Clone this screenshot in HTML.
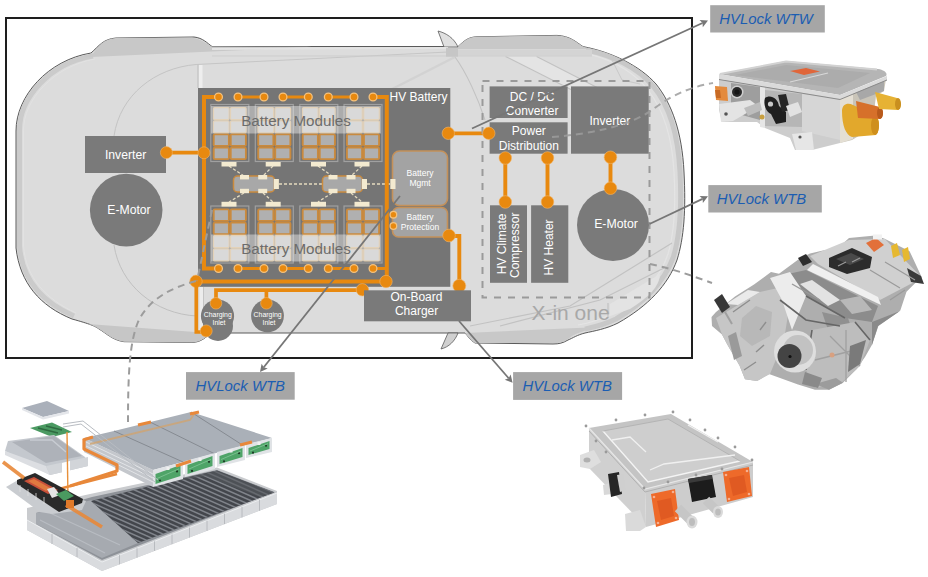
<!DOCTYPE html>
<html><head><meta charset="utf-8">
<style>
html,body{margin:0;padding:0;background:#fff;}
body{width:928px;height:577px;overflow:hidden;position:relative;}
svg{position:absolute;left:0;top:0;display:block;font-family:"Liberation Sans",sans-serif;}
</style></head><body>
<svg width="928" height="577" viewBox="0 0 928 577">
<path d="M16,131 C16,96 48,60 91,53 C99,46 103,39 116,38 L194,37 C203,38 207,43 212,46.5 L448,46.5 L458,46.6 C464,41 468,37 477,36.8 L557,35.4 C570,36 576,42 583,46.6 C612,52 640,66 656,84 C672,104 682,132 684,172 C686,210 684,238 677,260 C668,285 648,306 618,323 C606,329 594,331 585,333 C577,335 573,338 568,340 C563,343 559,344 553,344 L475,343 C470,340 468,336 465,333 L212,333 C206,336 203,342 192,342.5 L124,341.7 C112,340 106,333 99,329 C95,326 90,324 72,319 C40,306 20,283 16,248 Z" fill="#dcdcdc" stroke="#5a5a5a" stroke-width="1"/>
<path d="M93,56 C50,63 19,98 19.5,131 L19.5,246 C22,280 42,302 74,316" fill="none" stroke="#cbcbcb" stroke-width="5"/>
<path d="M95,59 C54,66 23,100 23.5,131 L23.5,246 C26,278 46,299 76,313" fill="none" stroke="#e2e2e2" stroke-width="1"/>
<path d="M586,50 C612,55 638,68 653,86 C668,104 678,132 680,172 C682,210 680,236 673,258 C664,282 645,302 616,319 C604,325 594,327 585,329" fill="none" stroke="#c8c8c8" stroke-width="5"/>
<path d="M592,55 C615,61 636,74 648,90 C662,108 672,134 674,172 C676,208 674,234 668,254 C660,278 642,298 614,313 C600,320 590,323 578,325" fill="none" stroke="#e4e4e4" stroke-width="1.2"/>
<path d="M80,57.6 C88,55 91,53 93,53.7 C99,46 103,39 116,38 L192,37.5 C200,39 206,43 211.5,46.5 L312,46.8 Z" fill="#c8c8c8"/>
<path d="M99,329 C95,326 92,325 88,324 L195,332 L212,333 C206,336 203,342 192,342.5 L124,341.7 C112,340 106,333 99,329 Z" fill="#c6c6c6"/>
<path d="M458,46.6 C464,41 468,37 477,36.8 L557,35.4 C570,36 576,42 583,46.6 L590,49 L458,49 Z" fill="#c8c8c8"/>
<path d="M465,333 L600,327 C583,331 577,333 572,336 C566,341 562,343 555,343 L475,343 C470,340 468,336 465,333 Z" fill="#c8c8c8"/>
<path d="M444,47 L438,31 C446,33 454,38 458,47 Z" fill="#e0e0e0" stroke="#5a5a5a" stroke-width="0.8"/>
<path d="M448,333 L441,349 C449,347 455,341 458,333 Z" fill="#d0d0d0" stroke="#5a5a5a" stroke-width="0.8"/>
<path d="M196,64.5 L448,52" fill="none" stroke="#c6c6c6" stroke-width="1"/><path d="M212,49 L448,48" fill="none" stroke="#e4e4e4" stroke-width="2"/>
<path d="M114,136 C120,95 155,68 196,64.5" fill="none" stroke="#c4c4c4" stroke-width="1"/>
<path d="M114,245 C120,285 155,314 197,316" fill="none" stroke="#c0c0c0" stroke-width="1"/>
<path d="M200.5,65 L200.5,88" fill="none" stroke="#eeeeee" stroke-width="4"/><path d="M198,64.5 L198,88" fill="none" stroke="#bcbcbc" stroke-width="1"/>
<path d="M201.3,287 L201.3,333" fill="none" stroke="#ececec" stroke-width="3.6"/><path d="M203.5,287 L203.5,333" fill="none" stroke="#c4c4c4" stroke-width="1"/>
<path d="M446,52.5 L592,52.5" fill="none" stroke="#d4d4d4" stroke-width="6"/>
<path d="M505.5,56.4 L536.6,56.4 L602,90 L572,90 Z" fill="#e4e4e4"/>
<path d="M505.5,56.4 L572,90 M536.6,56.4 L602,90 M455,57 C466,72 478,98 485,120" fill="none" stroke="#c2c2c2" stroke-width="1.1"/>
<path d="M455,57 L400,85 L330,120" fill="none" stroke="#d2d2d2" stroke-width="2.5"/>
<path d="M212,56 L592,56" fill="none" stroke="#cdcdcd" stroke-width="1"/>
<rect x="446" y="47.7" width="12" height="9" fill="#c6c6c6"/>
<path d="M612,60 L622,80 L640,84" fill="none" stroke="#c8c8c8" stroke-width="1"/>
<path d="M610,304 L660,274 C660,286 648,298 630,309 L610,316 Z" fill="#e3e3e3"/>
<path d="M470,326 L570,306 L672,243 M500,326 L600,300 L664,268 M608,303 L608,318" fill="none" stroke="#c2c2c2" stroke-width="1.2"/>
<rect x="6" y="18" width="686" height="340" fill="none" stroke="#1e1e1e" stroke-width="2"/>
<rect x="85" y="136" width="81" height="37" fill="#7a7a7a"/>
<circle cx="126.2" cy="210.1" r="36.3" fill="#7a7a7a"/>
<text x="125.6" y="159.2" font-size="12.2" fill="#fff" text-anchor="middle">Inverter</text>
<text x="129" y="213.5" font-size="12.2" fill="#fff" text-anchor="middle">E-Motor</text>
<rect x="198" y="88" width="252.3" height="198.8" fill="#757575"/>
<rect x="210.8" y="104.5" width="38" height="57" fill="none" stroke="#a0a0a0" stroke-width="1.2"/><rect x="213.5" y="107.7" width="15.6" height="11.85" fill="#c0c0c0" stroke="#d0b48a" stroke-width="1.2" rx="1"/><rect x="230.5" y="107.7" width="15.6" height="11.85" fill="#c0c0c0" stroke="#d0b48a" stroke-width="1.2" rx="1"/><rect x="213.5" y="120.95" width="15.6" height="11.85" fill="#c0c0c0" stroke="#d0b48a" stroke-width="1.2" rx="1"/><rect x="230.5" y="120.95" width="15.6" height="11.85" fill="#c0c0c0" stroke="#d0b48a" stroke-width="1.2" rx="1"/><rect x="213.70000000000002" y="134.4" width="15.2" height="11.45" fill="#b0b0b0" stroke="#c98a3e" stroke-width="1.9" rx="1"/><rect x="230.70000000000002" y="134.4" width="15.2" height="11.45" fill="#b0b0b0" stroke="#c98a3e" stroke-width="1.9" rx="1"/><rect x="213.70000000000002" y="147.65" width="15.2" height="11.45" fill="#b0b0b0" stroke="#c98a3e" stroke-width="1.9" rx="1"/><rect x="230.70000000000002" y="147.65" width="15.2" height="11.45" fill="#b0b0b0" stroke="#c98a3e" stroke-width="1.9" rx="1"/>
<rect x="210.8" y="206.0" width="38" height="57" fill="none" stroke="#a0a0a0" stroke-width="1.2"/><rect x="213.70000000000002" y="209.4" width="15.2" height="11.45" fill="#b0b0b0" stroke="#c98a3e" stroke-width="1.9" rx="1"/><rect x="230.70000000000002" y="209.4" width="15.2" height="11.45" fill="#b0b0b0" stroke="#c98a3e" stroke-width="1.9" rx="1"/><rect x="213.70000000000002" y="222.65" width="15.2" height="11.45" fill="#b0b0b0" stroke="#c98a3e" stroke-width="1.9" rx="1"/><rect x="230.70000000000002" y="222.65" width="15.2" height="11.45" fill="#b0b0b0" stroke="#c98a3e" stroke-width="1.9" rx="1"/><rect x="213.5" y="235.7" width="15.6" height="11.85" fill="#c0c0c0" stroke="#d0b48a" stroke-width="1.2" rx="1"/><rect x="230.5" y="235.7" width="15.6" height="11.85" fill="#c0c0c0" stroke="#d0b48a" stroke-width="1.2" rx="1"/><rect x="213.5" y="248.95" width="15.6" height="11.85" fill="#c0c0c0" stroke="#d0b48a" stroke-width="1.2" rx="1"/><rect x="230.5" y="248.95" width="15.6" height="11.85" fill="#c0c0c0" stroke="#d0b48a" stroke-width="1.2" rx="1"/>
<rect x="255.3" y="104.5" width="38" height="57" fill="none" stroke="#a0a0a0" stroke-width="1.2"/><rect x="258.0" y="107.7" width="15.6" height="11.85" fill="#c0c0c0" stroke="#d0b48a" stroke-width="1.2" rx="1"/><rect x="275.0" y="107.7" width="15.6" height="11.85" fill="#c0c0c0" stroke="#d0b48a" stroke-width="1.2" rx="1"/><rect x="258.0" y="120.95" width="15.6" height="11.85" fill="#c0c0c0" stroke="#d0b48a" stroke-width="1.2" rx="1"/><rect x="275.0" y="120.95" width="15.6" height="11.85" fill="#c0c0c0" stroke="#d0b48a" stroke-width="1.2" rx="1"/><rect x="258.2" y="134.4" width="15.2" height="11.45" fill="#b0b0b0" stroke="#c98a3e" stroke-width="1.9" rx="1"/><rect x="275.2" y="134.4" width="15.2" height="11.45" fill="#b0b0b0" stroke="#c98a3e" stroke-width="1.9" rx="1"/><rect x="258.2" y="147.65" width="15.2" height="11.45" fill="#b0b0b0" stroke="#c98a3e" stroke-width="1.9" rx="1"/><rect x="275.2" y="147.65" width="15.2" height="11.45" fill="#b0b0b0" stroke="#c98a3e" stroke-width="1.9" rx="1"/>
<rect x="255.3" y="206.0" width="38" height="57" fill="none" stroke="#a0a0a0" stroke-width="1.2"/><rect x="258.2" y="209.4" width="15.2" height="11.45" fill="#b0b0b0" stroke="#c98a3e" stroke-width="1.9" rx="1"/><rect x="275.2" y="209.4" width="15.2" height="11.45" fill="#b0b0b0" stroke="#c98a3e" stroke-width="1.9" rx="1"/><rect x="258.2" y="222.65" width="15.2" height="11.45" fill="#b0b0b0" stroke="#c98a3e" stroke-width="1.9" rx="1"/><rect x="275.2" y="222.65" width="15.2" height="11.45" fill="#b0b0b0" stroke="#c98a3e" stroke-width="1.9" rx="1"/><rect x="258.0" y="235.7" width="15.6" height="11.85" fill="#c0c0c0" stroke="#d0b48a" stroke-width="1.2" rx="1"/><rect x="275.0" y="235.7" width="15.6" height="11.85" fill="#c0c0c0" stroke="#d0b48a" stroke-width="1.2" rx="1"/><rect x="258.0" y="248.95" width="15.6" height="11.85" fill="#c0c0c0" stroke="#d0b48a" stroke-width="1.2" rx="1"/><rect x="275.0" y="248.95" width="15.6" height="11.85" fill="#c0c0c0" stroke="#d0b48a" stroke-width="1.2" rx="1"/>
<rect x="299.8" y="104.5" width="38" height="57" fill="none" stroke="#a0a0a0" stroke-width="1.2"/><rect x="302.5" y="107.7" width="15.6" height="11.85" fill="#c0c0c0" stroke="#d0b48a" stroke-width="1.2" rx="1"/><rect x="319.5" y="107.7" width="15.6" height="11.85" fill="#c0c0c0" stroke="#d0b48a" stroke-width="1.2" rx="1"/><rect x="302.5" y="120.95" width="15.6" height="11.85" fill="#c0c0c0" stroke="#d0b48a" stroke-width="1.2" rx="1"/><rect x="319.5" y="120.95" width="15.6" height="11.85" fill="#c0c0c0" stroke="#d0b48a" stroke-width="1.2" rx="1"/><rect x="302.7" y="134.4" width="15.2" height="11.45" fill="#b0b0b0" stroke="#c98a3e" stroke-width="1.9" rx="1"/><rect x="319.7" y="134.4" width="15.2" height="11.45" fill="#b0b0b0" stroke="#c98a3e" stroke-width="1.9" rx="1"/><rect x="302.7" y="147.65" width="15.2" height="11.45" fill="#b0b0b0" stroke="#c98a3e" stroke-width="1.9" rx="1"/><rect x="319.7" y="147.65" width="15.2" height="11.45" fill="#b0b0b0" stroke="#c98a3e" stroke-width="1.9" rx="1"/>
<rect x="299.8" y="206.0" width="38" height="57" fill="none" stroke="#a0a0a0" stroke-width="1.2"/><rect x="302.7" y="209.4" width="15.2" height="11.45" fill="#b0b0b0" stroke="#c98a3e" stroke-width="1.9" rx="1"/><rect x="319.7" y="209.4" width="15.2" height="11.45" fill="#b0b0b0" stroke="#c98a3e" stroke-width="1.9" rx="1"/><rect x="302.7" y="222.65" width="15.2" height="11.45" fill="#b0b0b0" stroke="#c98a3e" stroke-width="1.9" rx="1"/><rect x="319.7" y="222.65" width="15.2" height="11.45" fill="#b0b0b0" stroke="#c98a3e" stroke-width="1.9" rx="1"/><rect x="302.5" y="235.7" width="15.6" height="11.85" fill="#c0c0c0" stroke="#d0b48a" stroke-width="1.2" rx="1"/><rect x="319.5" y="235.7" width="15.6" height="11.85" fill="#c0c0c0" stroke="#d0b48a" stroke-width="1.2" rx="1"/><rect x="302.5" y="248.95" width="15.6" height="11.85" fill="#c0c0c0" stroke="#d0b48a" stroke-width="1.2" rx="1"/><rect x="319.5" y="248.95" width="15.6" height="11.85" fill="#c0c0c0" stroke="#d0b48a" stroke-width="1.2" rx="1"/>
<rect x="344.0" y="104.5" width="38" height="57" fill="none" stroke="#a0a0a0" stroke-width="1.2"/><rect x="346.7" y="107.7" width="15.6" height="11.85" fill="#c0c0c0" stroke="#d0b48a" stroke-width="1.2" rx="1"/><rect x="363.7" y="107.7" width="15.6" height="11.85" fill="#c0c0c0" stroke="#d0b48a" stroke-width="1.2" rx="1"/><rect x="346.7" y="120.95" width="15.6" height="11.85" fill="#c0c0c0" stroke="#d0b48a" stroke-width="1.2" rx="1"/><rect x="363.7" y="120.95" width="15.6" height="11.85" fill="#c0c0c0" stroke="#d0b48a" stroke-width="1.2" rx="1"/><rect x="346.9" y="134.4" width="15.2" height="11.45" fill="#b0b0b0" stroke="#c98a3e" stroke-width="1.9" rx="1"/><rect x="363.9" y="134.4" width="15.2" height="11.45" fill="#b0b0b0" stroke="#c98a3e" stroke-width="1.9" rx="1"/><rect x="346.9" y="147.65" width="15.2" height="11.45" fill="#b0b0b0" stroke="#c98a3e" stroke-width="1.9" rx="1"/><rect x="363.9" y="147.65" width="15.2" height="11.45" fill="#b0b0b0" stroke="#c98a3e" stroke-width="1.9" rx="1"/>
<rect x="344.0" y="206.0" width="38" height="57" fill="none" stroke="#a0a0a0" stroke-width="1.2"/><rect x="346.9" y="209.4" width="15.2" height="11.45" fill="#b0b0b0" stroke="#c98a3e" stroke-width="1.9" rx="1"/><rect x="363.9" y="209.4" width="15.2" height="11.45" fill="#b0b0b0" stroke="#c98a3e" stroke-width="1.9" rx="1"/><rect x="346.9" y="222.65" width="15.2" height="11.45" fill="#b0b0b0" stroke="#c98a3e" stroke-width="1.9" rx="1"/><rect x="363.9" y="222.65" width="15.2" height="11.45" fill="#b0b0b0" stroke="#c98a3e" stroke-width="1.9" rx="1"/><rect x="346.7" y="235.7" width="15.6" height="11.85" fill="#c0c0c0" stroke="#d0b48a" stroke-width="1.2" rx="1"/><rect x="363.7" y="235.7" width="15.6" height="11.85" fill="#c0c0c0" stroke="#d0b48a" stroke-width="1.2" rx="1"/><rect x="346.7" y="248.95" width="15.6" height="11.85" fill="#c0c0c0" stroke="#d0b48a" stroke-width="1.2" rx="1"/><rect x="363.7" y="248.95" width="15.6" height="11.85" fill="#c0c0c0" stroke="#d0b48a" stroke-width="1.2" rx="1"/>
<rect x="211" y="106" width="170" height="27.5" fill="#ffffff" fill-opacity="0.4"/>
<rect x="211" y="234.5" width="170" height="27" fill="#ffffff" fill-opacity="0.4"/>
<text x="296" y="125.5" font-size="15.2" fill="#6c6c6c" text-anchor="middle">Battery Modules</text>
<text x="296" y="253.6" font-size="15.2" fill="#6c6c6c" text-anchor="middle">Battery Modules</text>
<text x="418.5" y="100.8" font-size="12" fill="#fff" text-anchor="middle">HV Battery</text>
<path d="M229,166 L244,176 M273,166 L263,176 M318,166 L332,176 M362,166 L351,176 M244,193 L229,202 M263,193 L273,202 M332,193 L318,202 M351,193 L362,202 M279,184 L322,184 M367,184 L390,184" stroke="#e6dcc0" stroke-width="1.3" stroke-dasharray="3,2" fill="none"/>
<rect x="233.5" y="176" width="41" height="16" rx="4" fill="#a8a8a8" stroke="#c98a3e" stroke-width="1.5"/>
<rect x="322.5" y="176" width="40" height="16" rx="4" fill="#a8a8a8" stroke="#c98a3e" stroke-width="1.5"/>
<rect x="221.5" y="162" width="15" height="4.5" fill="#f3ead0"/>
<rect x="221.5" y="201.8" width="15" height="4.8" fill="#f3ead0"/>
<rect x="265.7" y="162" width="15" height="4.5" fill="#f3ead0"/>
<rect x="265.7" y="201.8" width="15" height="4.8" fill="#f3ead0"/>
<rect x="311" y="162" width="15" height="4.5" fill="#f3ead0"/>
<rect x="311" y="201.8" width="15" height="4.8" fill="#f3ead0"/>
<rect x="354.5" y="162" width="15" height="4.5" fill="#f3ead0"/>
<rect x="354.5" y="201.8" width="15" height="4.8" fill="#f3ead0"/>
<rect x="240" y="175" width="9" height="4.4" fill="#f3ead0"/>
<rect x="240" y="188.8" width="9" height="4.4" fill="#f3ead0"/>
<rect x="258.2" y="175" width="9" height="4.4" fill="#f3ead0"/>
<rect x="258.2" y="188.8" width="9" height="4.4" fill="#f3ead0"/>
<rect x="328.5" y="175" width="9" height="4.4" fill="#f3ead0"/>
<rect x="328.5" y="188.8" width="9" height="4.4" fill="#f3ead0"/>
<rect x="346.5" y="175" width="9" height="4.4" fill="#f3ead0"/>
<rect x="346.5" y="188.8" width="9" height="4.4" fill="#f3ead0"/>
<rect x="273.9" y="179" width="5" height="10" fill="#f3ead0"/>
<rect x="362" y="179" width="5" height="10" fill="#f3ead0"/>
<rect x="392.5" y="151" width="55" height="54.5" rx="7" fill="#a3a3a3" stroke="#c4915a" stroke-width="1.6"/>
<text x="420" y="176" font-size="8.5" fill="#fff" text-anchor="middle">Battery</text>
<text x="420" y="186" font-size="8.5" fill="#fff" text-anchor="middle">Mgmt</text>
<rect x="392.5" y="207.5" width="55" height="29.5" rx="6" fill="#a3a3a3" stroke="#c4915a" stroke-width="1.6"/>
<rect x="390.3" y="179" width="5.2" height="10" fill="#f3ead0"/>
<text x="420" y="219.5" font-size="8.5" fill="#fff" text-anchor="middle">Battery</text>
<text x="420" y="229.8" font-size="8.5" fill="#fff" text-anchor="middle">Protection</text>
<path d="M218.5,97 L204,97 L204,268.5 L218.3,268.5" fill="none" stroke="#e8890f" stroke-width="4" stroke-linejoin="miter"/>
<path d="M373,97 L386.8,97 L386.8,281.5" fill="none" stroke="#e8890f" stroke-width="4" stroke-linejoin="miter"/>
<path d="M238,97 L264,97 M283,97 L308.3,97 M328.3,97 L354,97" fill="none" stroke="#e8890f" stroke-width="3.2" stroke-linejoin="miter"/>
<path d="M237.3,268.5 L263.2,268.5 M282.8,268.5 L308.3,268.5 M328.3,268.5 L354,268.5 M373.5,268.5 L386.8,268.5" fill="none" stroke="#e8890f" stroke-width="3.2" stroke-linejoin="miter"/>
<circle cx="218.5" cy="97" r="3.9000000000000004" fill="#e8890f" stroke="#f4c27e" stroke-width="1.3"/>
<circle cx="218.5" cy="268.5" r="3.9000000000000004" fill="#e8890f" stroke="#f4c27e" stroke-width="1.3"/>
<circle cx="238" cy="97" r="3.9000000000000004" fill="#e8890f" stroke="#f4c27e" stroke-width="1.3"/>
<circle cx="238" cy="268.5" r="3.9000000000000004" fill="#e8890f" stroke="#f4c27e" stroke-width="1.3"/>
<circle cx="264" cy="97" r="3.9000000000000004" fill="#e8890f" stroke="#f4c27e" stroke-width="1.3"/>
<circle cx="264" cy="268.5" r="3.9000000000000004" fill="#e8890f" stroke="#f4c27e" stroke-width="1.3"/>
<circle cx="283" cy="97" r="3.9000000000000004" fill="#e8890f" stroke="#f4c27e" stroke-width="1.3"/>
<circle cx="283" cy="268.5" r="3.9000000000000004" fill="#e8890f" stroke="#f4c27e" stroke-width="1.3"/>
<circle cx="308.3" cy="97" r="3.9000000000000004" fill="#e8890f" stroke="#f4c27e" stroke-width="1.3"/>
<circle cx="308.3" cy="268.5" r="3.9000000000000004" fill="#e8890f" stroke="#f4c27e" stroke-width="1.3"/>
<circle cx="328.3" cy="97" r="3.9000000000000004" fill="#e8890f" stroke="#f4c27e" stroke-width="1.3"/>
<circle cx="328.3" cy="268.5" r="3.9000000000000004" fill="#e8890f" stroke="#f4c27e" stroke-width="1.3"/>
<circle cx="354" cy="97" r="3.9000000000000004" fill="#e8890f" stroke="#f4c27e" stroke-width="1.3"/>
<circle cx="354" cy="268.5" r="3.9000000000000004" fill="#e8890f" stroke="#f4c27e" stroke-width="1.3"/>
<circle cx="373" cy="97" r="3.9000000000000004" fill="#e8890f" stroke="#f4c27e" stroke-width="1.3"/>
<circle cx="373" cy="268.5" r="3.9000000000000004" fill="#e8890f" stroke="#f4c27e" stroke-width="1.3"/>
<path d="M196,281.5 L386.8,281.5" fill="none" stroke="#e8890f" stroke-width="4" stroke-linejoin="miter"/>
<path d="M166.4,152.7 L204,152.7" fill="none" stroke="#e8890f" stroke-width="3.8" stroke-linejoin="miter"/>
<circle cx="166.4" cy="152.6" r="6" fill="#e8890f" stroke="#f2b56a" stroke-width="0.6"/>
<circle cx="204" cy="152.8" r="6" fill="#e8890f" stroke="#f2b56a" stroke-width="0.6"/>
<circle cx="196" cy="281.3" r="6.2" fill="#e8890f" stroke="#f2b56a" stroke-width="0.6"/>
<circle cx="386" cy="281.5" r="6.2" fill="#e8890f" stroke="#f2b56a" stroke-width="0.6"/>
<path d="M448.3,133.3 L488.8,133.3" fill="none" stroke="#e8890f" stroke-width="3.8" stroke-linejoin="miter"/>
<circle cx="448.3" cy="133.3" r="6.2" fill="#e8890f" stroke="#f2b56a" stroke-width="0.6"/>
<circle cx="393.4" cy="214.7" r="3.3000000000000003" fill="#e8890f" stroke="#f4c27e" stroke-width="1.3"/>
<circle cx="393.4" cy="226" r="3.3000000000000003" fill="#e8890f" stroke="#f4c27e" stroke-width="1.3"/>
<path d="M449,236 L459.3,236 L459.3,285.8" fill="none" stroke="#e8890f" stroke-width="3.9" stroke-linejoin="miter"/>
<circle cx="449" cy="235.5" r="6.3" fill="#e8890f" stroke="#f2b56a" stroke-width="0.6"/>
<circle cx="459.3" cy="285.8" r="6.5" fill="#e8890f" stroke="#f2b56a" stroke-width="0.6"/>
<circle cx="217.5" cy="316" r="16.6" fill="#7a7a7a"/>
<circle cx="267.5" cy="315.8" r="16.4" fill="#7a7a7a"/>
<circle cx="218" cy="326" r="15" fill="#7a7a7a"/>
<path d="M216,303 L216,290.2 L362.4,290.2 M266.4,290.2 L266.4,303" fill="none" stroke="#e8890f" stroke-width="3.7" stroke-linejoin="miter"/>
<circle cx="216" cy="303.3" r="5.8" fill="#e8890f" stroke="#f2b56a" stroke-width="0.6"/>
<circle cx="266.4" cy="303.3" r="5.8" fill="#e8890f" stroke="#f2b56a" stroke-width="0.6"/>
<circle cx="362.4" cy="289.8" r="6.2" fill="#e8890f" stroke="#f2b56a" stroke-width="0.6"/>
<path d="M196.3,281 L196.3,332 L206.5,332" fill="none" stroke="#e8890f" stroke-width="3.7" stroke-linejoin="miter"/>
<circle cx="206.2" cy="330.9" r="6" fill="#e8890f" stroke="#f2b56a" stroke-width="0.6"/>
<text x="217.8" y="316.9" font-size="6.9" fill="#fff" text-anchor="middle">Charging</text>
<text x="219" y="324.6" font-size="6.9" fill="#fff" text-anchor="middle">Inlet</text>
<text x="267.6" y="316.9" font-size="6.9" fill="#fff" text-anchor="middle">Charging</text>
<text x="269" y="324.6" font-size="6.9" fill="#fff" text-anchor="middle">Inlet</text>
<rect x="364" y="290.3" width="107" height="31" fill="#7a7a7a"/>
<text x="416.4" y="301" font-size="12" fill="#fff" text-anchor="middle">On-Board</text>
<text x="416.6" y="314.5" font-size="12" fill="#fff" text-anchor="middle">Charger</text>
<rect x="482.5" y="81" width="167" height="216.5" fill="none" stroke="#9a9a9a" stroke-width="2" stroke-dasharray="7,7"/>
<rect x="489.6" y="86.4" width="78" height="31.6" fill="#7a7a7a"/>
<rect x="489.6" y="122.3" width="78" height="31.4" fill="#7a7a7a"/>
<rect x="571" y="86.4" width="77.7" height="67.3" fill="#7a7a7a"/>
<circle cx="488.8" cy="133.3" r="6.2" fill="#e8890f" stroke="#f2b56a" stroke-width="0.6"/>
<text x="532.2" y="100.5" font-size="12" fill="#fff" text-anchor="middle">DC / DC</text>
<text x="532.2" y="114.6" font-size="12" fill="#fff" text-anchor="middle">Converter</text>
<text x="528.8" y="135.3" font-size="12" fill="#fff" text-anchor="middle">Power</text>
<text x="528.8" y="149.6" font-size="12" fill="#fff" text-anchor="middle">Distribution</text>
<text x="609.8" y="124.7" font-size="12" fill="#fff" text-anchor="middle">Inverter</text>
<rect x="490" y="205.3" width="37" height="77.5" fill="#7a7a7a"/>
<rect x="531.1" y="205.3" width="37.2" height="77.5" fill="#7a7a7a"/>
<text transform="translate(506,243.8) rotate(-90)" font-size="12" fill="#fff" text-anchor="middle">HV Climate</text>
<text transform="translate(519,245.3) rotate(-90)" font-size="12" fill="#fff" text-anchor="middle">Compressor</text>
<text transform="translate(553,247.4) rotate(-90)" font-size="12" fill="#fff" text-anchor="middle">HV Heater</text>
<circle cx="613" cy="225" r="36" fill="#7a7a7a"/>
<text x="616" y="228.4" font-size="12.3" fill="#fff" text-anchor="middle">E-Motor</text>
<path d="M505.3,158 L505.3,202 M547.5,158 L547.5,202 M610.5,157.3 L610.5,188.2" fill="none" stroke="#e8890f" stroke-width="3.9" stroke-linejoin="miter"/>
<circle cx="505.3" cy="158" r="6.3" fill="#e8890f" stroke="#f2b56a" stroke-width="0.6"/>
<circle cx="505.3" cy="202" r="6.3" fill="#e8890f" stroke="#f2b56a" stroke-width="0.6"/>
<circle cx="547.5" cy="158" r="6.3" fill="#e8890f" stroke="#f2b56a" stroke-width="0.6"/>
<circle cx="547.5" cy="202" r="6.3" fill="#e8890f" stroke="#f2b56a" stroke-width="0.6"/>
<circle cx="610.5" cy="157.3" r="6.3" fill="#e8890f" stroke="#f2b56a" stroke-width="0.6"/>
<circle cx="610.5" cy="188.2" r="6.3" fill="#e8890f" stroke="#f2b56a" stroke-width="0.6"/>
<text x="570.5" y="320" font-size="21" fill="#a8a8a8" text-anchor="middle">X-in one</text>
<path d="M552,137 C590,134 630,126 652,110 C668,98 685,88 713,83" fill="none" stroke="#9c9c9c" stroke-width="2" stroke-dasharray="7,5" stroke-opacity="0.85"/>
<path d="M650,264 C670,268 690,275 712,283" fill="none" stroke="#9c9c9c" stroke-width="2" stroke-dasharray="7,5"/>
<path d="M212,210 L197,281" fill="none" stroke="#9c9c9c" stroke-width="2" stroke-dasharray="7,5" stroke="#a8a8a8" stroke-width="1.6"/>
<path d="M196,281 C170,288 148,300 138,322 C130,342 128,370 128,422" fill="none" stroke="#9c9c9c" stroke-width="2" stroke-dasharray="7,5" stroke="#a0a0a0"/>
<line x1="472" y1="128.5" x2="702.54" y2="23.00" stroke="#767676" stroke-width="1.8"/><polygon points="708,20.5 702.80,27.17 702.54,23.00 699.56,20.07" fill="#767676"/>
<line x1="649.5" y1="224" x2="702.58" y2="198.87" stroke="#767676" stroke-width="1.8"/><polygon points="708,196.3 702.89,203.03 702.58,198.87 699.55,195.98" fill="#767676"/>
<line x1="400" y1="196" x2="263.74" y2="367.30" stroke="#767676" stroke-width="1.8"/><polygon points="260,372 261.62,363.70 263.74,367.30 267.72,368.56" fill="#767676"/>
<line x1="459" y1="321" x2="508.67" y2="378.27" stroke="#767676" stroke-width="1.8"/><polygon points="512.6,382.8 504.74,379.69 508.67,378.27 510.63,374.58" fill="#767676"/>
<rect x="710.2" y="5.2" width="114.6" height="27.3" fill="#a6a6a6"/><text x="766" y="24" font-size="14.9" font-style="italic" fill="#1b5db2" text-anchor="middle">HVLock WTW</text>
<rect x="708.3" y="185.1" width="113.5" height="27.4" fill="#a6a6a6"/><text x="761.5" y="203.6" font-size="14.9" font-style="italic" fill="#1b5db2" text-anchor="middle">HVLock WTB</text>
<rect x="186" y="372.1" width="108.7" height="27.6" fill="#a6a6a6"/><text x="240.3" y="391" font-size="14.9" font-style="italic" fill="#1b5db2" text-anchor="middle">HVLock WTB</text>
<rect x="513.1" y="372.1" width="109" height="27.8" fill="#a6a6a6"/><text x="567.2" y="391" font-size="14.9" font-style="italic" fill="#1b5db2" text-anchor="middle">HVLock WTB</text>
<defs>
<linearGradient id="lid1" x1="0" y1="0" x2="1" y2="1"><stop offset="0" stop-color="#c4c4c4"/><stop offset="1" stop-color="#a9a9a9"/></linearGradient>
<linearGradient id="face1" x1="0" y1="0" x2="1" y2="0"><stop offset="0" stop-color="#d2d2d2"/><stop offset="0.6" stop-color="#c6c6c6"/><stop offset="1" stop-color="#e4e0d8"/></linearGradient>
<linearGradient id="mod" x1="0" y1="0" x2="1" y2="1"><stop offset="0" stop-color="#aeb2b8"/><stop offset="1" stop-color="#9ca0a6"/></linearGradient>
<linearGradient id="tray" x1="0" y1="0" x2="1" y2="1"><stop offset="0" stop-color="#c9cbcf"/><stop offset="1" stop-color="#b4b6ba"/></linearGradient>
<linearGradient id="chg" x1="0" y1="0" x2="1" y2="1"><stop offset="0" stop-color="#d6d6d6"/><stop offset="1" stop-color="#c2c2c2"/></linearGradient>
<linearGradient id="mot" x1="0" y1="0" x2="1" y2="1"><stop offset="0" stop-color="#c8c8c8"/><stop offset="0.5" stop-color="#b4b4b4"/><stop offset="1" stop-color="#a4a4a4"/></linearGradient>
</defs>
<polygon points="719,79 840,98 840,143 812,150 795,150 790,138 765,128 757,122 722,122 719,110" fill="#cdcdcd" />
<polygon points="840,98 886,79 884,91 876,96 872,128 852,140 840,143" fill="#c9c4b8" />
<polygon points="840,98 853,93 853,139 840,143" fill="#e4dfd4" />
<polygon points="856,92 884,80 884,91 860,100" fill="#a8a8a8" />
<polygon points="731,83 760,87 760,120 731,112" fill="#9e9e9e" />
<polygon points="765,90 802,94 802,127 765,126" fill="#b6b6b6" />
<polygon points="760,86 765,87 765,128 760,127" fill="#e6e6e6" />
<polygon points="802,94 840,99 840,140 802,131" fill="#d6d6d6" />
<path d="M719,74 L786,61 L878,69 C884,70 888,73 886,76 L840,95 Z" fill="#b5b5b5"/>
<polygon points="735,75 786,65 870,73 838,88" fill="#acacac" />
<polygon points="719,74 840,95 887,76 887,80 840,99 719,79" fill="#dadada" />
<path d="M720,74 L786,61.5 L877,69.5" stroke="#d2d2d2" stroke-width="2" fill="none"/>
<path d="M719,79.5 L840,99.5 L887,80" stroke="#8a8a8a" stroke-width="1" fill="none"/>
<path d="M790,82 L828,73" stroke="#d8d8d8" stroke-width="1.2" fill="none"/>
<polygon points="790,71 806,68 820,71.5 804,75" fill="#e0663a" />
<circle cx="737" cy="92" r="6.5" fill="#cfcfcf"/>
<circle cx="737" cy="92" r="5" fill="#2a2a2a"/>
<circle cx="737" cy="92" r="2.6" fill="#151515"/>
<polygon points="715,86 727,87 728,101 716,100" fill="#e48a3c" />
<polygon points="715,90 720,90 721,98 716,98" fill="#c86a24" />
<polygon points="719,104 750,100 758,106 745,114 733,121 721,122" fill="#e4e4e4" />
<circle cx="726" cy="114" r="1.8" fill="#555"/>
<polygon points="744,108 760,102 762,110 748,116" fill="#bdbdbd" />
<path d="M765,98 C763,104 766,112 771,114 L776,124 L786,122 L786,112 L779,106 C778,98 770,94 765,98 Z" fill="#1f1f1f"/>
<circle cx="770.5" cy="104" r="2.6" fill="#c8c8c8"/>
<polygon points="778,95 786,94 790,110 782,112" fill="#262626" />
<polygon points="786,106 798,102 802,112 790,117" fill="#e2e2e2" />
<circle cx="762" cy="117" r="2.5" fill="#c9a040"/>
<polygon points="792,134 812,132 814,150 796,150" fill="#e6e6e6" />
<circle cx="800" cy="137" r="1.6" fill="#555"/>
<path d="M842,111 C842,104 848,102 853,105 L876,116 C880,119 880,131 876,135 L852,137 C846,135 842,126 842,111 Z" fill="#e2a82c"/>
<ellipse cx="875" cy="125.5" rx="4" ry="9.5" fill="#cf8f1c"/>
<path d="M856,101 L880,107 C884,110 884,117 880,119 L858,118 Z" fill="#d6702a"/>
<ellipse cx="880" cy="113" rx="3" ry="6" fill="#b85a1c"/>
<path d="M875,92 L897,98 C902,101 902,108 898,110 L879,109 Z" fill="#e6b234"/>
<ellipse cx="898" cy="104" rx="3" ry="6" fill="#c98f1f"/>
<polygon points="711.5,317 716,312 735,296.4 754,284.6 771,272 779,273.7 799,259 810,253.4 824,250.3 834,251.8 849,238 875.3,235.6 884.6,238.7 909.6,251.2 922,277.7 915.8,282.4 906.5,291.8 900.3,310.5 878.4,326 872,344.8 865,357 856.7,369 843,382.8 829,389.7 815,389.7 798,384.5 769,374 757,381 745,379.3 739.5,365.5 727.4,344.8 722,334.5 712,326" fill="#aeaeae" />
<polygon points="810,256 849,240 885,239 922,278 880,300 818,264" fill="#d0d0d0" />
<polygon points="813,264 878,297 881,305 807,270" fill="#f0f0f0" />
<polygon points="829,258 852,248 872,257 870,268 847,274 829,267" fill="#2c2c2c" />
<polygon points="836,259 851,253 864,259 850,265" fill="#4a4a4a" />
<path d="M838,266 L846,262 M852,262 L860,258" stroke="#9a9a9a" stroke-width="1.2" fill="none"/>
<polygon points="866,243 876,238 884,245 874,252" fill="#e2703a" />
<rect x="873" y="234.5" width="9" height="5" fill="#f2f2f2"/>
<polygon points="891,246 897,243 900,255 893,258" fill="#e6b830" />
<polygon points="902,250 908,247 910,259 904,262" fill="#e6b830" />
<polygon points="907,268 921,276 924,284 911,282" fill="#3a3a3a" />
<polygon points="798,258 806,254 812,262 803,266" fill="#2e2e2e" />
<path d="M885,262 L915,280 M870,270 L900,288 M890,300 L905,290" stroke="#9a9a9a" stroke-width="1.2" fill="none"/>
<polygon points="779,276 806,270 878,306 872,322 845,318 806,296" fill="#8c8c8c" />
<polygon points="800,284 812,280 840,300 828,306" fill="#e2e2e2" />
<polygon points="840,300 860,296 872,310 852,314" fill="#b8b8b8" />
<polygon points="872,322 900,311 878,326 872,345" fill="#8a8a8a" />
<polygon points="822,312 848,318 852,330 828,330" fill="#909090" />
<polygon points="812,330 855,322 870,340 860,366 840,384 815,388 806,370" fill="#bdbdbd" />
<path d="M846,330 L846,382 M830,336 L860,366 M815,360 L855,350" stroke="#a0a0a0" stroke-width="1.3" fill="none"/>
<circle cx="832" cy="355" r="2.5" fill="#d8a080"/>
<polygon points="815,384 829,389.7 843,382.8 836,378" fill="#9c9c9c" />
<polygon points="716,318 738,305 760,292 778,288 790,302 784,340 770,374 757,381 745,379.3 739.5,365.5 727.4,344.8 722,334.5" fill="#c6c6c6" />
<polygon points="742,318 756,306 772,312 770,336 752,346 740,336" fill="#b8b8b8" />
<polygon points="726,304 748,290 760,292 738,305" fill="#eaeaea" />
<polygon points="770,278 790,272 806,296 792,330 782,300" fill="#ececec" />
<path d="M733,312 L750,300 M760,330 L766,322 M756,352 L764,345 M744,370 L756,362" stroke="#8e8e8e" stroke-width="1.4" fill="none"/>
<path d="M792,284 L820,300" stroke="#9a9a9a" stroke-width="1.4" fill="none"/>
<path d="M806,296 L845,318 M780,300 L806,320 L840,326 M855,322 L870,340 M812,330 L806,370" stroke="#666" stroke-width="1.6" fill="none"/>
<polygon points="850,346 866,340 860,364 848,372" fill="#7a7a7a" />
<polygon points="805,372 822,378 818,388 802,384" fill="#8a8a8a" />
<polygon points="728,336 736,332 742,356 734,360" fill="#9a9a9a" />
<circle cx="795" cy="351.5" r="21" fill="#dedede"/>
<circle cx="798" cy="350" r="15" fill="#c2c2c2"/>
<circle cx="789.5" cy="356" r="12" fill="#444444"/>
<circle cx="790" cy="356.5" r="1.6" fill="#111"/>
<polygon points="714,300 722,294 730,307 722,313" fill="#383838" />
<line x1="725" y1="312" x2="732" y2="324" stroke="#a0a0a0" stroke-width="2"/>
<clipPath id="stripes"><polygon points="91,501 150,486 217,470.5 274.5,492.5 138,543"/></clipPath>
<polygon points="27,508 90,494 217,467.5 277,491 277,504 102,571 27,530" fill="#c9cbce" />
<polygon points="36,513 92,497 217,470 274.5,492 102,560 36,524" fill="#8e9298" />
<polygon points="36,513 92,500 138,543 102,558 36,524" fill="#a6aab0" />
<path d="M40,520 L105,553 M50,513 L120,545" stroke="#b8bcc2" stroke-width="1.2" fill="none"/>
<g clip-path="url(#stripes)"><rect x="80" y="460" width="200" height="100" fill="#43464c"/><line x1="80" y1="250.0" x2="280" y2="338.0" stroke="#80848b" stroke-width="1.5"/><line x1="80" y1="254.5" x2="280" y2="342.5" stroke="#80848b" stroke-width="1.5"/><line x1="80" y1="259.0" x2="280" y2="347.0" stroke="#80848b" stroke-width="1.5"/><line x1="80" y1="263.5" x2="280" y2="351.5" stroke="#80848b" stroke-width="1.5"/><line x1="80" y1="268.0" x2="280" y2="356.0" stroke="#80848b" stroke-width="1.5"/><line x1="80" y1="272.5" x2="280" y2="360.5" stroke="#80848b" stroke-width="1.5"/><line x1="80" y1="277.0" x2="280" y2="365.0" stroke="#80848b" stroke-width="1.5"/><line x1="80" y1="281.5" x2="280" y2="369.5" stroke="#80848b" stroke-width="1.5"/><line x1="80" y1="286.0" x2="280" y2="374.0" stroke="#80848b" stroke-width="1.5"/><line x1="80" y1="290.5" x2="280" y2="378.5" stroke="#80848b" stroke-width="1.5"/><line x1="80" y1="295.0" x2="280" y2="383.0" stroke="#80848b" stroke-width="1.5"/><line x1="80" y1="299.5" x2="280" y2="387.5" stroke="#80848b" stroke-width="1.5"/><line x1="80" y1="304.0" x2="280" y2="392.0" stroke="#80848b" stroke-width="1.5"/><line x1="80" y1="308.5" x2="280" y2="396.5" stroke="#80848b" stroke-width="1.5"/><line x1="80" y1="313.0" x2="280" y2="401.0" stroke="#80848b" stroke-width="1.5"/><line x1="80" y1="317.5" x2="280" y2="405.5" stroke="#80848b" stroke-width="1.5"/><line x1="80" y1="322.0" x2="280" y2="410.0" stroke="#80848b" stroke-width="1.5"/><line x1="80" y1="326.5" x2="280" y2="414.5" stroke="#80848b" stroke-width="1.5"/><line x1="80" y1="331.0" x2="280" y2="419.0" stroke="#80848b" stroke-width="1.5"/><line x1="80" y1="335.5" x2="280" y2="423.5" stroke="#80848b" stroke-width="1.5"/><line x1="80" y1="340.0" x2="280" y2="428.0" stroke="#80848b" stroke-width="1.5"/><line x1="80" y1="344.5" x2="280" y2="432.5" stroke="#80848b" stroke-width="1.5"/><line x1="80" y1="349.0" x2="280" y2="437.0" stroke="#80848b" stroke-width="1.5"/><line x1="80" y1="353.5" x2="280" y2="441.5" stroke="#80848b" stroke-width="1.5"/><line x1="80" y1="358.0" x2="280" y2="446.0" stroke="#80848b" stroke-width="1.5"/><line x1="80" y1="362.5" x2="280" y2="450.5" stroke="#80848b" stroke-width="1.5"/><line x1="80" y1="367.0" x2="280" y2="455.0" stroke="#80848b" stroke-width="1.5"/><line x1="80" y1="371.5" x2="280" y2="459.5" stroke="#80848b" stroke-width="1.5"/><line x1="80" y1="376.0" x2="280" y2="464.0" stroke="#80848b" stroke-width="1.5"/><line x1="80" y1="380.5" x2="280" y2="468.5" stroke="#80848b" stroke-width="1.5"/><line x1="80" y1="385.0" x2="280" y2="473.0" stroke="#80848b" stroke-width="1.5"/><line x1="80" y1="389.5" x2="280" y2="477.5" stroke="#80848b" stroke-width="1.5"/><line x1="80" y1="394.0" x2="280" y2="482.0" stroke="#80848b" stroke-width="1.5"/><line x1="80" y1="398.5" x2="280" y2="486.5" stroke="#80848b" stroke-width="1.5"/><line x1="80" y1="403.0" x2="280" y2="491.0" stroke="#80848b" stroke-width="1.5"/><line x1="80" y1="407.5" x2="280" y2="495.5" stroke="#80848b" stroke-width="1.5"/><line x1="80" y1="412.0" x2="280" y2="500.0" stroke="#80848b" stroke-width="1.5"/><line x1="80" y1="416.5" x2="280" y2="504.5" stroke="#80848b" stroke-width="1.5"/><line x1="80" y1="421.0" x2="280" y2="509.0" stroke="#80848b" stroke-width="1.5"/><line x1="80" y1="425.5" x2="280" y2="513.5" stroke="#80848b" stroke-width="1.5"/><line x1="80" y1="430.0" x2="280" y2="518.0" stroke="#80848b" stroke-width="1.5"/><line x1="80" y1="434.5" x2="280" y2="522.5" stroke="#80848b" stroke-width="1.5"/><line x1="80" y1="439.0" x2="280" y2="527.0" stroke="#80848b" stroke-width="1.5"/><line x1="80" y1="443.5" x2="280" y2="531.5" stroke="#80848b" stroke-width="1.5"/><line x1="80" y1="448.0" x2="280" y2="536.0" stroke="#80848b" stroke-width="1.5"/><line x1="80" y1="452.5" x2="280" y2="540.5" stroke="#80848b" stroke-width="1.5"/><line x1="80" y1="457.0" x2="280" y2="545.0" stroke="#80848b" stroke-width="1.5"/><line x1="80" y1="461.5" x2="280" y2="549.5" stroke="#80848b" stroke-width="1.5"/><line x1="80" y1="466.0" x2="280" y2="554.0" stroke="#80848b" stroke-width="1.5"/><line x1="80" y1="470.5" x2="280" y2="558.5" stroke="#80848b" stroke-width="1.5"/><line x1="80" y1="475.0" x2="280" y2="563.0" stroke="#80848b" stroke-width="1.5"/><line x1="80" y1="479.5" x2="280" y2="567.5" stroke="#80848b" stroke-width="1.5"/><line x1="80" y1="484.0" x2="280" y2="572.0" stroke="#80848b" stroke-width="1.5"/><line x1="80" y1="488.5" x2="280" y2="576.5" stroke="#80848b" stroke-width="1.5"/><line x1="80" y1="493.0" x2="280" y2="581.0" stroke="#80848b" stroke-width="1.5"/><line x1="80" y1="497.5" x2="280" y2="585.5" stroke="#80848b" stroke-width="1.5"/><line x1="80" y1="502.0" x2="280" y2="590.0" stroke="#80848b" stroke-width="1.5"/><line x1="80" y1="506.5" x2="280" y2="594.5" stroke="#80848b" stroke-width="1.5"/><line x1="80" y1="511.0" x2="280" y2="599.0" stroke="#80848b" stroke-width="1.5"/><line x1="80" y1="515.5" x2="280" y2="603.5" stroke="#80848b" stroke-width="1.5"/><line x1="80" y1="520.0" x2="280" y2="608.0" stroke="#80848b" stroke-width="1.5"/><line x1="80" y1="524.5" x2="280" y2="612.5" stroke="#80848b" stroke-width="1.5"/><line x1="80" y1="529.0" x2="280" y2="617.0" stroke="#80848b" stroke-width="1.5"/><line x1="80" y1="533.5" x2="280" y2="621.5" stroke="#80848b" stroke-width="1.5"/><line x1="80" y1="538.0" x2="280" y2="626.0" stroke="#80848b" stroke-width="1.5"/><line x1="80" y1="542.5" x2="280" y2="630.5" stroke="#80848b" stroke-width="1.5"/><line x1="80" y1="547.0" x2="280" y2="635.0" stroke="#80848b" stroke-width="1.5"/><line x1="80" y1="551.5" x2="280" y2="639.5" stroke="#80848b" stroke-width="1.5"/><line x1="80" y1="556.0" x2="280" y2="644.0" stroke="#80848b" stroke-width="1.5"/><line x1="80" y1="560.5" x2="280" y2="648.5" stroke="#80848b" stroke-width="1.5"/><polygon points="150,486 217,470.5 274.5,492.5 260,497 205,476" fill="#55585e" fill-opacity="0.6"/></g>
<polygon points="27,520 102,562 277,493 277,504 102,571 27,530" fill="#d9dbde" />
<path d="M27,520 L102,562 L277,493" stroke="#eceef0" stroke-width="1" fill="none"/>
<g stroke="#b4b7bb" stroke-width="0.9"><line x1="119.5" y1="555.1" x2="119.5" y2="564.3"/><line x1="137.0" y1="548.2" x2="137.0" y2="557.6"/><line x1="154.5" y1="541.3" x2="154.5" y2="550.9"/><line x1="172.0" y1="534.4" x2="172.0" y2="544.2"/><line x1="189.5" y1="527.5" x2="189.5" y2="537.5"/><line x1="207.0" y1="520.6" x2="207.0" y2="530.8"/><line x1="224.5" y1="513.7" x2="224.5" y2="524.1"/><line x1="242.0" y1="506.8" x2="242.0" y2="517.4"/><line x1="259.5" y1="499.9" x2="259.5" y2="510.7"/></g>
<g stroke="#b4b7bb" stroke-width="0.9"><line x1="52" y1="534" x2="52" y2="544"/><line x1="77" y1="548" x2="77" y2="557"/></g>
<polygon points="84,438 153,470 153,487 84,452" fill="#c4c7cc" />
<path d="M86,442 L153,474 M86,446 L153,478 M86,449 L153,482" stroke="#e2e4e7" stroke-width="1" fill="none"/>
<polygon points="84,438 114,431 191,412 272,438 183,462 153,470" fill="#aab0b8" />
<path d="M114,431 L183,462 M150,422 L215,454 M191,412 L244,446" stroke="#868b92" stroke-width="1" fill="none"/>
<path d="M90,444 L190,420 L195,413" stroke="#d0a470" stroke-width="1.8" stroke-opacity="0.8" fill="none"/>
<polygon points="153,470 183,462 183,479 153,487" fill="#e0e3e6" />
<polygon points="155.5,474 180.5,465 180.5,476 155.5,484" fill="#4fa468" />
<rect x="166.5" y="467.0" width="3" height="3" fill="#f0f0f0"/>
<circle cx="160.0" cy="480.5" r="1.1" fill="#1e3a26"/><circle cx="177.0" cy="471.4" r="1.1" fill="#1e3a26"/>
<path d="M157.0,478.5 L179.0,468.8" stroke="#79c08e" stroke-width="1" fill="none"/>
<polygon points="185,461 215,453 215,469 185,477" fill="#e0e3e6" />
<polygon points="187.5,465 212.5,456 212.5,466 187.5,474" fill="#4fa468" />
<rect x="198.5" y="458.0" width="3" height="3" fill="#f0f0f0"/>
<circle cx="192.0" cy="470.9" r="1.1" fill="#1e3a26"/><circle cx="209.0" cy="461.8" r="1.1" fill="#1e3a26"/>
<path d="M189.0,469.0 L211.0,459.4" stroke="#79c08e" stroke-width="1" fill="none"/>
<polygon points="217,452 245,445 245,460 217,467" fill="#e0e3e6" />
<polygon points="219.5,456 242.5,448 242.5,457 219.5,464" fill="#4fa468" />
<rect x="229.5" y="449.5" width="3" height="3" fill="#f0f0f0"/>
<circle cx="224.0" cy="461.3" r="1.1" fill="#1e3a26"/><circle cx="239.0" cy="453.2" r="1.1" fill="#1e3a26"/>
<path d="M221.0,459.5 L241.0,451.0" stroke="#79c08e" stroke-width="1" fill="none"/>
<polygon points="246,444 272,438 272,452 246,458" fill="#e0e3e6" />
<polygon points="248.5,448 269.5,441 269.5,449 248.5,455" fill="#4fa468" />
<rect x="257.5" y="442.0" width="3" height="3" fill="#f0f0f0"/>
<circle cx="253.0" cy="452.7" r="1.1" fill="#1e3a26"/><circle cx="266.0" cy="445.7" r="1.1" fill="#1e3a26"/>
<path d="M250.0,451.0 L268.0,443.6" stroke="#79c08e" stroke-width="1" fill="none"/>
<path d="M138,425 L151,422 M190,414 L199,412 M240,445 L252,442 M176,466 L191,461 M83,440 L93,437" stroke="#e8883a" stroke-width="3" fill="none"/>
<path d="M84,439 L84,449 L117,465 L117,471 L70,486" stroke="#e8883a" stroke-width="3.2" fill="none" stroke-linejoin="round"/>
<path d="M55,490 L117,474" stroke="#e8883a" stroke-width="2.4" fill="none"/>
<path d="M63,424 L83,421 L158,480 M63,427 L81,424 L155,482" stroke="#b8bcc2" stroke-width="1" fill="none"/>
<polygon points="22,408 47,401 69,411 43,417" fill="#aab0ba" />
<polygon points="22,408 43,417 69,411 69,413.5 43,419.5 22,410" fill="#e4e6ea" />
<polygon points="30,428 52,422.5 72,432 52,437" fill="#4b9a62" />
<path d="M38,428 L58,433 M46,426 L62,430" stroke="#2f6a40" stroke-width="1.5" fill="none"/>
<polygon points="5,451 8,441 54,435 85,457 88,466 50,475" fill="#c4c8ce" />
<polygon points="12,442 54,436 82,456 46,463" fill="#aeb2b9" />
<path d="M30,440 L52,440 L66,452" stroke="#c8ccd2" stroke-width="1.5" fill="none"/>
<polygon points="5,451 46,466 50,475 5,455" fill="#dcdee2" />
<polygon points="46,466 88,457 88,466 50,475" fill="#d2d5d9" />
<polygon points="62,463 70,461 70,474 62,476" fill="#ffffff" />
<path d="M67,432 L68,500" stroke="#e8903a" stroke-width="1.4" fill="none"/>
<polygon points="6,487 18,480 86,501 82,510 52,514 40,512" fill="#c9ccd0" />
<polygon points="17,480 35,473 83,499 82,503 59,512 17,484" fill="#2a2a2a" />
<polygon points="24,481 34,477 58,490 48,494" fill="#c8503a" />
<polygon points="28,481 34,479 52,489 46,491" fill="#e07a40" />
<polygon points="47,489 54,487 60,495 52,498" fill="#e4e4e4" />
<polygon points="56,494 66,490 74,496 64,501" fill="#4a9a60" />
<g stroke="#e0e0e0" stroke-width="0.8"><line x1="20" y1="485" x2="20" y2="492"/><line x1="28" y1="489" x2="28" y2="496"/><line x1="36" y1="493" x2="36" y2="500"/><line x1="44" y1="497" x2="44" y2="504"/></g>
<path d="M3,462 L24,478 M66,505 L102,527" stroke="#e8883a" stroke-width="3.6" fill="none" stroke-opacity="0.9"/>
<rect x="66" y="500" width="8" height="8" fill="#e07a2a"/>
<polygon points="589,428 645,489 646,527 589,468" fill="#d0d0d0" />
<polygon points="645,489 753,462 753,497 646,527" fill="#cdcdcd" />
<polygon points="589,428 671,414 753,462 645,489" fill="#c4c4c4" />
<polygon points="603,431 668,419 740,461 648,482" fill="#cecece" />
<path d="M603,431 L648,482 L740,461" stroke="#f4f4f4" stroke-width="1.4" fill="none"/>
<path d="M603,431 L668,419 L740,461" stroke="#b4b4b4" stroke-width="1" fill="none"/>
<path d="M612,440 L630,437 L646,452 M650,470 L664,464 L735,455 M688,425 L718,442" stroke="#f0f0f0" stroke-width="1.3" fill="none"/>
<path d="M589,428 L645,489 L753,462" stroke="#e6e6e6" stroke-width="1.2" fill="none"/>
<path d="M589,431 L645,492 L753,465" stroke="#a8a8a8" stroke-width="0.8" fill="none"/>
<circle cx="586" cy="426" r="1.4" fill="#9a9a9a"/>
<circle cx="616" cy="420" r="1.4" fill="#9a9a9a"/>
<circle cx="645" cy="415" r="1.4" fill="#9a9a9a"/>
<circle cx="673" cy="412" r="1.4" fill="#9a9a9a"/>
<circle cx="690" cy="420" r="1.4" fill="#9a9a9a"/>
<circle cx="705" cy="430" r="1.4" fill="#9a9a9a"/>
<circle cx="718" cy="438" r="1.4" fill="#9a9a9a"/>
<circle cx="735" cy="447" r="1.4" fill="#9a9a9a"/>
<circle cx="752" cy="460" r="1.4" fill="#9a9a9a"/>
<circle cx="596" cy="441" r="1.4" fill="#9a9a9a"/>
<circle cx="606" cy="452" r="1.4" fill="#9a9a9a"/>
<circle cx="644" cy="488" r="1.4" fill="#9a9a9a"/>
<circle cx="668" cy="482" r="1.4" fill="#9a9a9a"/>
<circle cx="696" cy="475" r="1.4" fill="#9a9a9a"/>
<circle cx="722" cy="469" r="1.4" fill="#9a9a9a"/>
<polygon points="580,455 594,450 601,462 590,469 580,467" fill="#dedede" />
<ellipse cx="587" cy="460" rx="3.5" ry="2.5" fill="#b0b0b0"/>
<polygon points="625,514 640,510 646,527 640,531 626,531" fill="#dadada" />
<polygon points="603,485 610,483 612,494 604,495" fill="#d8d8d8" />
<polygon points="608,474 619,472 622,494 611,497" fill="#262626" />
<polygon points="617,475 624,474 626,490 620,492" fill="#cfcfcf" />
<polygon points="651,494 675,489 679,520 656,527" fill="#ee6a2a" />
<polygon points="657,501 671,498 674,516 661,520" fill="#e05a22" />
<circle cx="654" cy="497" r="1.3" fill="#f6b090"/><circle cx="673" cy="492" r="1.3" fill="#f6b090"/><circle cx="676" cy="518" r="1.3" fill="#f6b090"/><circle cx="658" cy="523" r="1.3" fill="#f6b090"/>
<polygon points="723,472 749,467 752,496 727,502" fill="#ee6a2a" />
<polygon points="729,478 744,475 747,492 733,496" fill="#e05a22" />
<circle cx="726" cy="475" r="1.3" fill="#f6b090"/><circle cx="747" cy="471" r="1.3" fill="#f6b090"/><circle cx="749" cy="494" r="1.3" fill="#f6b090"/><circle cx="729" cy="499" r="1.3" fill="#f6b090"/>
<polygon points="688,479 712,475 716,497 692,502" fill="#1c1c1c" />
<polygon points="688,479 712,475 712,479 689,483" fill="#3a3a3a" />
<path d="M678,508 L690,520 M706,500 L716,510" stroke="#c6c6c6" stroke-width="9" fill="none"/>
<ellipse cx="692" cy="522" rx="5.5" ry="6.5" fill="#dadada"/><ellipse cx="718" cy="512" rx="5" ry="6" fill="#dadada"/>
<ellipse cx="692" cy="522" rx="3" ry="4" fill="#bdbdbd"/><ellipse cx="718" cy="512" rx="2.8" ry="3.6" fill="#bdbdbd"/>
</svg>
</body></html>
